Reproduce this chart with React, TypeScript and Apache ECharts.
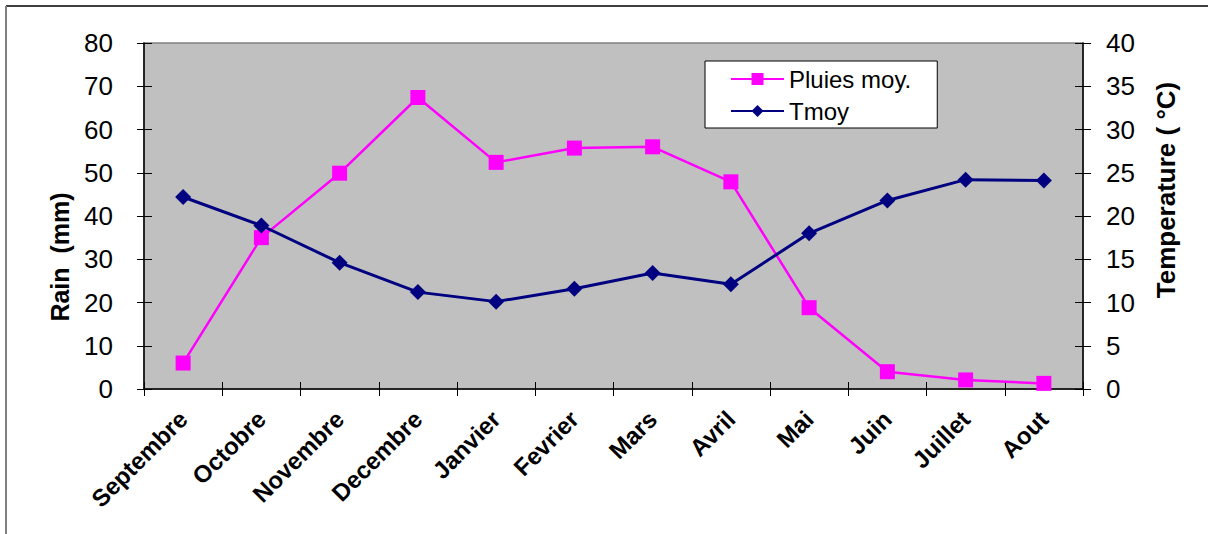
import React, { useEffect, useRef } from "react";
import * as echarts from "echarts";

const months = ["Septembre", "Octobre", "Novembre", "Decembre", "Janvier", "Fevrier", "Mars", "Avril", "Mai", "Juin", "Juillet", "Aout"];
const rain = [6.0, 35.0, 49.9, 67.4, 52.4, 55.7, 56.0, 47.9, 18.8, 4.0, 2.1, 1.3];
const tmoy = [22.2, 18.9, 14.6, 11.2, 10.1, 11.6, 13.4, 12.1, 18.0, 21.8, 24.2, 24.1];
const rainName = "Pluies moy.";
const tempName = "Tmoy";

const FONT = "'Liberation Sans', Arial, sans-serif";

export default function App() {
  const ref = useRef<HTMLDivElement>(null);
  useEffect(() => {
    if (!ref.current) return;
    const chart = echarts.init(ref.current, null, { renderer: "svg" });
    const gridRect = { left: 144, right: 125, top: 43, bottom: 145 };
    const tickStyle = { color: "#000", width: 1 };
    chart.setOption({
      animation: false,
      backgroundColor: "#fff",
      textStyle: { fontFamily: FONT },
      grid: [
        { ...gridRect, show: true, backgroundColor: "#C0C0C0", borderColor: "#808080", borderWidth: 1.5 },
        { ...gridRect, show: false },
      ],
      legend: {
        data: [rainName, tempName],
        orient: "vertical",
        left: 705,
        top: 61,
        padding: [6, 26, 5, 25],
        itemGap: 8,
        itemWidth: 53,
        itemHeight: 15,
        backgroundColor: "#fff",
        borderColor: "#000",
        borderWidth: 1,
        borderRadius: 0,
        textStyle: { fontSize: 24, color: "#000", fontFamily: FONT },
      },
      xAxis: [
        {
          type: "category",
          gridIndex: 0,
          data: months,
          boundaryGap: true,
          axisLine: { lineStyle: { color: "#000", width: 1.5 } },
          axisTick: { show: true, inside: false, length: 7, lineStyle: tickStyle },
          axisLabel: { rotate: 45, margin: 26, fontSize: 24, fontWeight: "bold", color: "#000", fontFamily: FONT, interval: 0 },
          splitLine: { show: false },
        },
        {
          type: "category",
          gridIndex: 1,
          data: months,
          boundaryGap: true,
          axisLine: { show: false },
          axisTick: { show: true, inside: true, length: 7, lineStyle: tickStyle },
          axisLabel: { show: false },
          splitLine: { show: false },
        },
      ],
      yAxis: [
        {
          type: "value",
          gridIndex: 0,
          position: "left",
          min: 0,
          max: 80,
          interval: 10,
          axisLine: { show: true, lineStyle: { color: "#000", width: 1.5 } },
          axisTick: { show: true, inside: false, length: 7, lineStyle: tickStyle },
          axisLabel: { margin: 31, fontSize: 26, color: "#000", fontFamily: FONT },
          splitLine: { show: false },
        },
        {
          type: "value",
          gridIndex: 0,
          position: "right",
          min: 0,
          max: 40,
          interval: 5,
          axisLine: { show: true, lineStyle: { color: "#000", width: 1.5 } },
          axisTick: { show: true, inside: false, length: 8, lineStyle: tickStyle },
          axisLabel: { margin: 23, fontSize: 26, color: "#000", fontFamily: FONT },
          splitLine: { show: false },
        },
        {
          type: "value",
          gridIndex: 1,
          position: "left",
          min: 0,
          max: 80,
          interval: 10,
          axisLine: { show: false },
          axisTick: { show: true, inside: true, length: 8, lineStyle: tickStyle },
          axisLabel: { show: false },
          splitLine: { show: false },
        },
        {
          type: "value",
          gridIndex: 1,
          position: "right",
          min: 0,
          max: 40,
          interval: 5,
          axisLine: { show: false },
          axisTick: { show: true, inside: true, length: 8, lineStyle: tickStyle },
          axisLabel: { show: false },
          splitLine: { show: false },
        },
      ],
      series: [
        {
          name: rainName,
          type: "line",
          xAxisIndex: 0,
          yAxisIndex: 0,
          data: rain,
          symbol: "rect",
          symbolSize: 15,
          lineStyle: { color: "#FF00FF", width: 2.5 },
          itemStyle: { color: "#FF00FF" },
          z: 3,
        },
        {
          name: tempName,
          type: "line",
          xAxisIndex: 0,
          yAxisIndex: 1,
          data: tmoy,
          symbol: "diamond",
          symbolSize: 16,
          lineStyle: { color: "#000080", width: 3 },
          itemStyle: { color: "#000080" },
          z: 4,
        },
      ],
      graphic: [
        { type: "line", shape: { x1: 6, y1: 6, x2: 1208, y2: 6 }, style: { stroke: "#000", lineWidth: 1.5 } },
        { type: "line", shape: { x1: 6, y1: 6, x2: 6, y2: 534 }, style: { stroke: "#808080", lineWidth: 2 } },
        {
          type: "text",
          x: 60,
          y: 257,
          rotation: Math.PI / 2,
          style: { text: "Rain  (mm)", font: `bold 25px ${FONT}`, fill: "#000", align: "center", verticalAlign: "middle" },
        },
        {
          type: "text",
          x: 1166,
          y: 190,
          rotation: Math.PI / 2,
          style: { text: "Temperature ( °C)", font: `bold 26px ${FONT}`, fill: "#000", align: "center", verticalAlign: "middle" },
        },
      ],
    });
    return () => chart.dispose();
  }, []);
  return <div ref={ref} style={{ position: "absolute", left: 0, top: 0, width: 1208, height: 534 }} />;
}
